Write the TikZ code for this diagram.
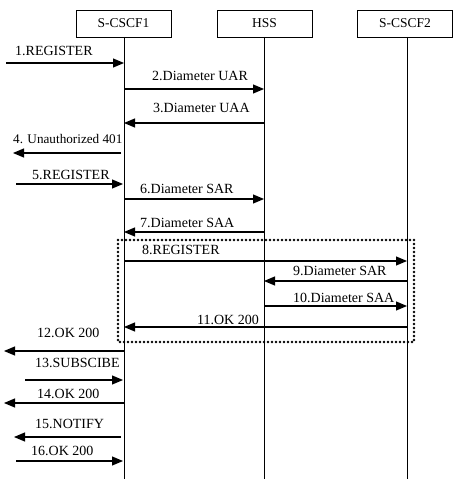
\documentclass[tikz,border=0pt]{standalone}
\usepackage{fontspec}
\setmainfont{Liberation Serif}
\usetikzlibrary{arrows.meta}
\begin{document}
\begin{tikzpicture}[x=1pt,y=-1pt,
  ent/.style={draw,line width=0.8pt,minimum width=95pt,minimum height=27pt,inner sep=0pt,font=\fontsize{13.5}{15}\selectfont},
  life/.style={line width=0.9pt},
  msg/.style={line width=1.1pt,-{Triangle[length=11pt,width=9pt]}},
  lbl/.style={anchor=base west,inner sep=0pt,font=\fontsize{14}{16}\selectfont},
  grp/.style={line width=2.8pt,dash pattern=on 0pt off 4pt,line cap=round}]
\useasboundingbox (0,0) rectangle (452,481);
% entities
\node[ent] (s1) at (123.5,23.5) {S-CSCF1};
\node[ent] (hss) at (264.5,23.5) {HSS};
\node[ent] (s2) at (405,23.5) {S-CSCF2};
\coordinate (e1) at (124,479);
\coordinate (e2) at (264,479);
\coordinate (e3) at (407,479);
\draw[life] (124,37) coordinate (t1) -- (e1);
\draw[life] (264,37) coordinate (t2) -- (e2);
\draw[life] (407,37) coordinate (t3) -- (e3);
% group box
\coordinate (gtl) at (118,240);
\coordinate (gbr) at (414,342);
\draw[grp] (gtl) rectangle (gbr);
% message end points
\coordinate (m1a) at (6,63);    \coordinate (m1b) at (124,63);
\coordinate (m2a) at (124,89);  \coordinate (m2b) at (264,89);
\coordinate (m3a) at (264,123); \coordinate (m3b) at (124,123);
\coordinate (m4a) at (121,153); \coordinate (m4b) at (13,153);
\coordinate (m5a) at (16,184);  \coordinate (m5b) at (123,184);
\coordinate (m6a) at (124,199); \coordinate (m6b) at (264,199);
\coordinate (m7a) at (264,232); \coordinate (m7b) at (124,232);
\coordinate (m8a) at (124,261); \coordinate (m8b) at (407,261);
\coordinate (m9a) at (407,281); \coordinate (m9b) at (264,281);
\coordinate (m10a) at (264,306); \coordinate (m10b) at (407,306);
\coordinate (m11a) at (407,327); \coordinate (m11b) at (124,327);
\coordinate (m12a) at (124,351); \coordinate (m12b) at (4,351);
\coordinate (m13a) at (25,380);  \coordinate (m13b) at (123,380);
\coordinate (m14a) at (124,403); \coordinate (m14b) at (4,403);
\coordinate (m15a) at (121,437); \coordinate (m15b) at (14,437);
\coordinate (m16a) at (16,461);  \coordinate (m16b) at (123,461);
\foreach \i in {1,...,16} \draw[msg] (m\i a) -- (m\i b);
% labels
\node[lbl] (l1) at (15,56) {1.REGISTER};
\node[lbl] (l2) at (152,81) {2.Diameter UAR};
\node[lbl] (l3) at (153,113) {3.Diameter UAA};
\node[lbl,font=\fontsize{13.2}{15}\selectfont] (l4) at (13,143) {4. Unauthorized 401};
\node[lbl] (l5) at (32,179) {5.REGISTER};
\node[lbl] (l6) at (140,193) {6.Diameter SAR};
\node[lbl] (l7) at (140,227) {7.Diameter SAA};
\node[lbl] (l8) at (142,254) {8.REGISTER};
\node[lbl] (l9) at (293,275) {9.Diameter SAR};
\node[lbl] (l10) at (293,302) {10.Diameter SAA};
\node[lbl,anchor=base east] (l11) at (259,324) {11.OK 200};
\node[lbl] (l12) at (37,337) {12.OK 200};
\node[lbl] (l13) at (35,367) {13.SUBSCIBE};
\node[lbl] (l14) at (37,398) {14.OK 200};
\node[lbl] (l15) at (35,428) {15.NOTIFY};
\node[lbl] (l16) at (31,455) {16.OK 200};
\end{tikzpicture}
\end{document}
